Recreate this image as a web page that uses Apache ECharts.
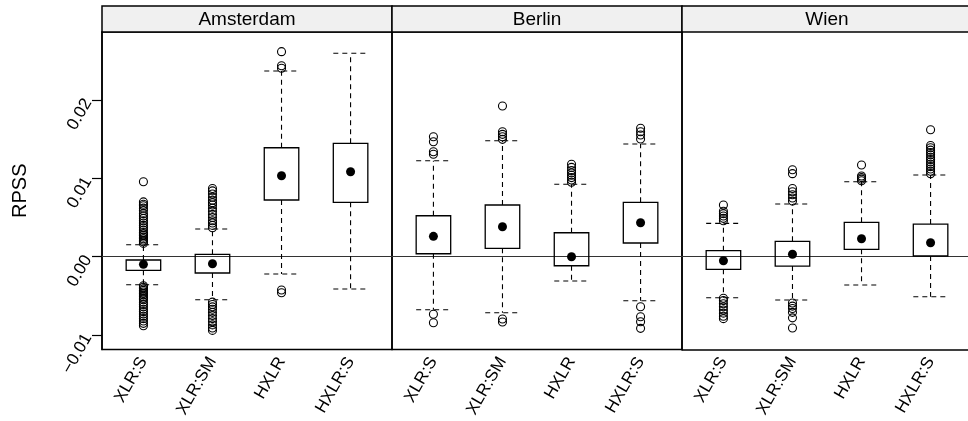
<!DOCTYPE html>
<html>
<head>
<meta charset="utf-8">
<script src="https://cdn.jsdelivr.net/npm/echarts@6/dist/echarts.min.js"></script>
<style>
html,body{margin:0;padding:0;background:#fff;}
#chart{width:968px;height:421px;}
</style>
</head>
<body>
<div id="chart"></div>
<script>
const cities = ['Amsterdam', 'Berlin', 'Wien'];
const methods = ['XLR:S', 'XLR:SM', 'HXLR', 'HXLR:S'];
const yTicks = [-0.01, 0, 0.01, 0.02];

// [lower whisker, Q1, median, Q3, upper whisker] for each method
const amsterdamStats = [
  [-0.00357, -0.00174, -0.00097, -0.00042, 0.00153],
  [-0.00549, -0.00208, -0.00089, 0.00031, 0.00354],
  [-0.00221, 0.00724, 0.01034, 0.01391, 0.0237],
  [-0.00412, 0.00694, 0.01085, 0.01447, 0.02596]
];
const berlinStats = [
  [-0.00676, 0.00038, 0.0026, 0.00523, 0.01225],
  [-0.00715, 0.00107, 0.00383, 0.0066, 0.01481],
  [-0.0031, -0.00115, 0.0, 0.00306, 0.00924],
  [-0.00562, 0.00175, 0.00434, 0.00694, 0.01438]
];
const wienStats = [
  [-0.00523, -0.00161, -0.00051, 0.00077, 0.00426],
  [-0.00553, -0.00119, 0.00031, 0.00196, 0.00673],
  [-0.00361, 0.00094, 0.0023, 0.00439, 0.00957],
  [-0.0051, 0.00009, 0.00179, 0.00417, 0.01043]
];

// outliers for each method
const amsterdamOutliers = [
  [0.00957, 0.0070, 0.0067, 0.0065, 0.0062, 0.0059, 0.0055, 0.0052, 0.0049, 0.0046, 0.0043, 0.0040,
   0.0037, 0.0034, 0.0031, 0.0029, 0.0027, 0.0025, 0.0023, 0.0021, 0.0019, 0.0017,
   -0.0037, -0.0039, -0.0041, -0.0043, -0.0045, -0.0047, -0.0049, -0.0051, -0.0053, -0.0055,
   -0.0058, -0.0061, -0.0064, -0.0067, -0.0070, -0.0073, -0.0076, -0.0079, -0.0082, -0.0085, -0.0088],
  [0.0087, 0.0084, 0.0080, 0.0076, 0.0072, 0.0069, 0.0066, 0.0062, 0.0058, 0.0054, 0.0050, 0.0046,
   0.0043, 0.0040, 0.0037,
   -0.0058, -0.0061, -0.0064, -0.0067, -0.0071, -0.0075, -0.0079, -0.0083, -0.0087, -0.0091, -0.0094],
  [0.02617, 0.02438, 0.02405, -0.00425, -0.0046],
  []
];
const berlinOutliers = [
  [0.01532, 0.01468, 0.0134, 0.01307, -0.00735, -0.00842],
  [0.01923, 0.01595, 0.01562, 0.01532, 0.01498, -0.00795, -0.00833],
  [0.0118, 0.0114, 0.0110, 0.0107, 0.0104, 0.0101, 0.0098, 0.0095],
  [0.01639, 0.01595, 0.01553, 0.01502, -0.00638, -0.00766, -0.0083, -0.00914]
];
const wienOutliers = [
  [0.0066, 0.0058, 0.0055, 0.0052, 0.0049, 0.0046,
   -0.0053, -0.0056, -0.0060, -0.0064, -0.0068, -0.0072, -0.0076, -0.0079],
  [0.0111, 0.0106, 0.0087, 0.0083, 0.0079, 0.0075, 0.0071,
   -0.0059, -0.0063, -0.0066, -0.0071, -0.0078, -0.0091],
  [0.0117, 0.0103, 0.0101, 0.0099, 0.0097],
  [0.0162, 0.0142, 0.0139, 0.0136, 0.0133, 0.0130, 0.0127, 0.0124, 0.0121, 0.0118, 0.0115, 0.0112, 0.0109, 0.0106]
];

const allStats = [amsterdamStats, berlinStats, wienStats];
const allOutliers = [amsterdamOutliers, berlinOutliers, wienOutliers];

const FONT = 'Liberation Sans, Arial, Helvetica, sans-serif';
const W = 968;
const panelLeft = 102, panelTop = 32, panelW = 290, panelH = 317.5;
const stripTop = 6, stripH = 26;
const halfBox = 0.25;
const BORDER = 1.5;
const xMin = 0.4, xMax = 4.6;

function renderBox(params, api) {
  const x = api.value(0);
  const lo = api.value(1), q1 = api.value(2), q3 = api.value(4), hi = api.value(5);
  const tl = api.coord([x - halfBox, q3]);
  const br = api.coord([x + halfBox, q1]);
  const c = v => api.coord([x, v]);
  const dash = { stroke: '#000', lineWidth: 1.1, lineDash: [5, 4], fill: null };
  const line = (a, b) => ({ type: 'line', shape: { x1: a[0], y1: a[1], x2: b[0], y2: b[1] }, style: dash });
  const capL = v => api.coord([x - halfBox, v]);
  const capR = v => api.coord([x + halfBox, v]);
  return {
    type: 'group',
    children: [
      line(c(q3), c(hi)),
      line(c(q1), c(lo)),
      line(capL(hi), capR(hi)),
      line(capL(lo), capR(lo)),
      { type: 'rect', shape: { x: tl[0], y: tl[1], width: br[0] - tl[0], height: br[1] - tl[1] },
        style: { fill: 'none', stroke: '#000', lineWidth: 1.3 } }
    ]
  };
}

const grids = [], xAxes = [], yAxes = [], series = [], graphics = [];
cities.forEach((city, i) => {
  const left = panelLeft + panelW * i;
  const isLast = i === cities.length - 1;
  // the last panel runs past the right edge of the picture: keep the same scale, cut at the edge
  const visW = Math.min(panelW, W - left);
  const thisMax = xMin + (xMax - xMin) * visW / panelW;
  grids.push({ left: left, top: panelTop, width: visW, height: panelH, show: !isLast,
    borderColor: '#000', borderWidth: BORDER, backgroundColor: 'transparent' });
  xAxes.push({
    type: 'value', gridIndex: i, min: xMin, max: thisMax,
    axisLine: { show: isLast, onZero: false, lineStyle: { color: '#000', width: BORDER } },
    axisTick: { show: false }, splitLine: { show: false },
    axisLabel: {
      customValues: [1, 2, 3, 4],
      formatter: v => methods[Math.round(v) - 1] || '',
      rotate: 60, fontSize: 17, color: '#000', fontFamily: FONT, margin: 9
    }
  });
  yAxes.push({
    type: 'value', gridIndex: i, min: -0.01184, max: 0.02868,
    splitLine: { show: false },
    axisLine: { show: i === 0 || isLast, lineStyle: { color: '#000', width: BORDER } },
    axisTick: { show: i === 0, customValues: yTicks, length: 10, lineStyle: { color: '#000', width: 1.2 } },
    axisLabel: {
      show: i === 0, customValues: yTicks,
      formatter: v => (v < 0 ? '\u2212' : '') + Math.abs(v).toFixed(2),
      rotate: 60, fontSize: 17, color: '#000', fontFamily: FONT, margin: 14
    },
    name: i === 0 ? 'RPSS' : '', nameLocation: 'middle', nameRotate: 90, nameGap: 72,
    nameTextStyle: { fontSize: 20, color: '#000', fontFamily: FONT }
  });
  const stats = allStats[i];
  series.push({
    type: 'custom', xAxisIndex: i, yAxisIndex: i,
    data: stats.map((s, k) => [k + 1].concat(s)),
    encode: { x: 0, y: [1, 2, 3, 4, 5] },
    renderItem: renderBox, silent: true, z: 3,
    markLine: {
      silent: true, symbol: 'none', label: { show: false },
      lineStyle: { color: '#333', width: 1.1, type: 'solid' },
      data: [{ yAxis: 0 }], z: 1
    }
  });
  series.push({
    type: 'scatter', xAxisIndex: i, yAxisIndex: i,
    data: stats.map((s, k) => [k + 1, s[2]]),
    symbol: 'circle', symbolSize: 9, itemStyle: { color: '#000', opacity: 1 }, silent: true, z: 5
  });
  const outs = [];
  allOutliers[i].forEach((arr, k) => arr.forEach(v => outs.push([k + 1, v])));
  series.push({
    type: 'scatter', xAxisIndex: i, yAxisIndex: i, data: outs,
    symbol: 'circle', symbolSize: 8,
    itemStyle: { color: 'rgba(0,0,0,0)', borderColor: '#000', borderWidth: 1.1, opacity: 1 },
    silent: true, z: 4
  });
  graphics.push({
    type: 'rect', x: left, y: stripTop,
    shape: { x: 0, y: 0, width: panelW, height: stripH },
    style: { fill: '#f0f0f0', stroke: '#000', lineWidth: BORDER }
  });
  graphics.push({
    type: 'text', x: left + panelW / 2, y: stripTop + stripH / 2 + 1,
    style: { text: city, fontSize: 19, fontFamily: FONT, fill: '#000', align: 'center', verticalAlign: 'middle' }
  });
});

const chart = echarts.init(document.getElementById('chart'), null, { renderer: 'canvas' });
chart.setOption({
  animation: false,
  backgroundColor: '#fff',
  grid: grids, xAxis: xAxes, yAxis: yAxes, series: series, graphic: graphics
});
</script>
</body>
</html>
